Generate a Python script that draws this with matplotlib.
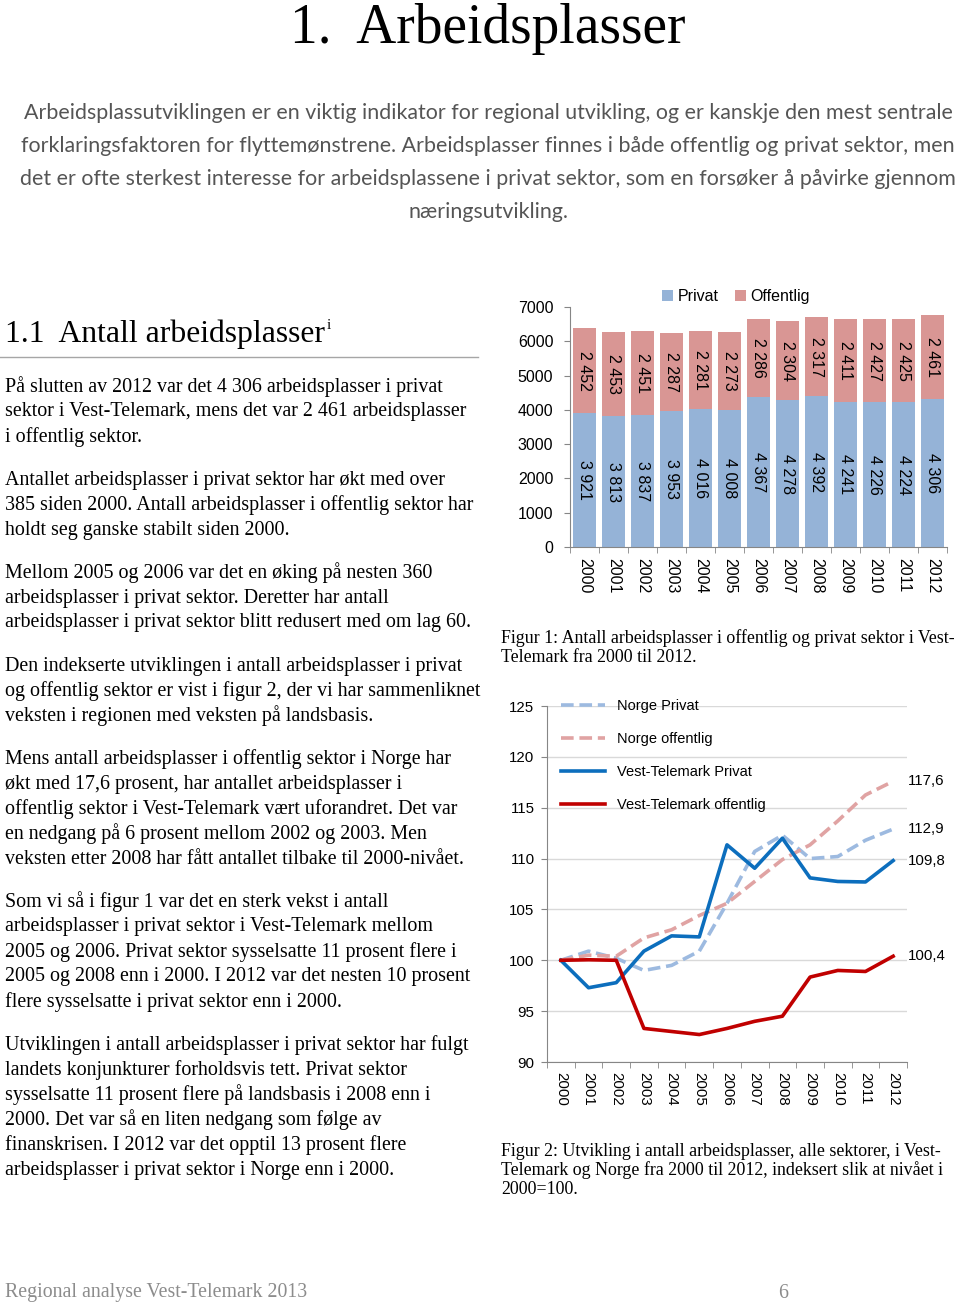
import numpy as np
import matplotlib
matplotlib.use("Agg")
import matplotlib.pyplot as plt
from matplotlib.ticker import FixedLocator

# Data
years = [str(y) for y in range(2000, 2013)]
privat = [3921, 3813, 3837, 3953, 4016, 4008, 4367, 4278, 4392, 4241, 4226, 4224, 4306]
offentlig = [2452, 2453, 2451, 2287, 2281, 2273, 2286, 2304, 2317, 2411, 2427, 2425, 2461]

norge_privat = [100, 100.9, 100.2, 99.0, 99.5, 100.9, 105.6, 110.7, 112.3, 110.0, 110.2, 111.8, 112.9]
norge_off = [100, 100.5, 100.4, 102.2, 103.0, 104.4, 105.6, 107.75, 109.9, 111.35, 113.7, 116.25, 117.6]
vt_privat = [100, 97.3, 97.8, 100.9, 102.4, 102.3, 111.35, 109.05, 112.0, 108.1, 107.75, 107.7, 109.8]
vt_off = [100, 100.05, 100.0, 93.3, 93.0, 92.7, 93.3, 94.0, 94.5, 98.35, 99.0, 98.9, 100.4]
end_labels = ["117,6", "112,9", "109,8", "100,4"]

title = "1.  Arbeidsplasser"
intro = [
    "Arbeidsplassutviklingen er en viktig indikator for regional utvikling, og er kanskje den mest sentrale",
    "forklaringsfaktoren for flyttemønstrene. Arbeidsplasser finnes i både offentlig og privat sektor, men",
    "det er ofte sterkest interesse for arbeidsplassene i privat sektor, som en forsøker å påvirke gjennom",
    "næringsutvikling.",
]
heading = "1.1  Antall arbeidsplasser"
paragraphs = [
    ["På slutten av 2012 var det 4 306 arbeidsplasser i privat",
     "sektor i Vest-Telemark, mens det var 2 461 arbeidsplasser",
     "i offentlig sektor."],
    ["Antallet arbeidsplasser i privat sektor har økt med over",
     "385 siden 2000. Antall arbeidsplasser i offentlig sektor har",
     "holdt seg ganske stabilt siden 2000."],
    ["Mellom 2005 og 2006 var det en øking på nesten 360",
     "arbeidsplasser i privat sektor. Deretter har antall",
     "arbeidsplasser i privat sektor blitt redusert med om lag 60."],
    ["Den indekserte utviklingen i antall arbeidsplasser i privat",
     "og offentlig sektor er vist i figur 2, der vi har sammenliknet",
     "veksten i regionen med veksten på landsbasis."],
    ["Mens antall arbeidsplasser i offentlig sektor i Norge har",
     "økt med 17,6 prosent, har antallet arbeidsplasser i",
     "offentlig sektor i Vest-Telemark vært uforandret. Det var",
     "en nedgang på 6 prosent mellom 2002 og 2003. Men",
     "veksten etter 2008 har fått antallet tilbake til 2000-nivået."],
    ["Som vi så i figur 1 var det en sterk vekst i antall",
     "arbeidsplasser i privat sektor i Vest-Telemark mellom",
     "2005 og 2006. Privat sektor sysselsatte 11 prosent flere i",
     "2005 og 2008 enn i 2000. I 2012 var det nesten 10 prosent",
     "flere sysselsatte i privat sektor enn i 2000."],
    ["Utviklingen i antall arbeidsplasser i privat sektor har fulgt",
     "landets konjunkturer forholdsvis tett. Privat sektor",
     "sysselsatte 11 prosent flere på landsbasis i 2008 enn i",
     "2000. Det var så en liten nedgang som følge av",
     "finanskrisen. I 2012 var det opptil 13 prosent flere",
     "arbeidsplasser i privat sektor i Norge enn i 2000."],
]
cap1 = ["Figur 1: Antall arbeidsplasser i offentlig og privat sektor i Vest-",
        "Telemark fra 2000 til 2012."]
cap2 = ["Figur 2: Utvikling i antall arbeidsplasser, alle sektorer, i Vest-",
        "Telemark og Norge fra 2000 til 2012, indeksert slik at nivået i",
        "2000=100."]
footer = "Regional analyse Vest-Telemark 2013"
page_no = "6"

W, H = 960, 1304
fig = plt.figure(figsize=(9.6, 13.04), dpi=100)
SERIF = ["Liberation Serif", "DejaVu Serif"]
SANS = ["Liberation Sans", "DejaVu Sans"]
renderer = fig.canvas.get_renderer()


def px(x, y):
    return x / W, 1 - y / H


def rect(l, t, r, b):
    return [l / W, 1 - b / H, (r - l) / W, (b - t) / H]


def fit_size(text, target_w, **kw):
    # font size that makes text about target_w pixels wide
    t = fig.text(0, 0, text, fontsize=10, **kw)
    w = t.get_window_extent(renderer).width
    t.remove()
    return 10 * target_w / w


# page text
fig.text(*px(488, 29), title, family=SERIF, fontsize=40, ha="center", va="center")
intro_kw = dict(family=["Lato", "DejaVu Sans"])
s_intro = min(fit_size(line, 936, **intro_kw) for line in intro[:3])
for i, line in enumerate(intro):
    fig.text(*px(488, 113 + 33 * i), line, fontsize=s_intro, color="#555555",
             ha="center", va="center", **intro_kw)

h = fig.text(*px(5, 334), heading, family=SERIF, fontsize=22.8, ha="left", va="center")
bb = h.get_window_extent(renderer)
fig.text(*px(bb.x1 + 2, 325), "i", family=SERIF, fontsize=11, ha="left", va="center")
fig.add_artist(plt.Line2D([0, 478 / W], [1 - 357 / H] * 2, color="#a6a6a6", lw=1))

s_body = fit_size(paragraphs[0][1], 460, family=SERIF)
y = 387
for para in paragraphs:
    for line in para:
        fig.text(*px(5, y), line, family=SERIF, fontsize=s_body, ha="left", va="center")
        y += 25
    y += 18

s_cap = fit_size(cap1[0], 454, family=SERIF)
for i, line in enumerate(cap1):
    fig.text(*px(501, 638 + 19 * i), line, family=SERIF, fontsize=s_cap, ha="left", va="center")
for i, line in enumerate(cap2):
    fig.text(*px(501, 1151 + 19 * i), line, family=SERIF, fontsize=s_cap, ha="left", va="center")

s_foot = fit_size(footer, 301, family=SERIF)
fig.text(*px(5, 1293), footer, family=SERIF, fontsize=s_foot, color="#8c8c8c", ha="left", va="center")
fig.text(*px(783, 1293), page_no, family=SERIF, fontsize=s_foot, color="#8c8c8c", ha="center", va="center")

# Figure 1: stacked bars
c_priv, c_off = "#95b3d7", "#d99694"
ax1 = fig.add_axes(rect(570, 307, 947, 547))
x = np.arange(len(years))
ax1.bar(x, privat, width=0.76, color=c_priv, label="Privat")
ax1.bar(x, offentlig, width=0.76, bottom=privat, color=c_off, label="Offentlig")
for xi, p, o in zip(x, privat, offentlig):
    ax1.text(xi, p / 2, f"{p:,}".replace(",", " "), rotation=270, ha="center", va="center",
             family=SANS, fontsize=11.5)
    ax1.text(xi, p + o / 2, f"{o:,}".replace(",", " "), rotation=270, ha="center", va="center",
             family=SANS, fontsize=11.5)
ax1.set_xlim(-0.5, 12.5)
ax1.set_ylim(0, 7000)
ax1.set_yticks(range(0, 7001, 1000))
ax1.set_xticks(x)
ax1.set_xticklabels(years, rotation=270, family=SANS, fontsize=11.5)
ax1.xaxis.set_minor_locator(FixedLocator(np.arange(-0.5, 13, 1)))
ax1.tick_params(axis="x", which="major", length=0, pad=8)
ax1.tick_params(axis="x", which="minor", length=4, color="#868686")
ax1.tick_params(axis="y", length=4, color="#868686", labelsize=11.5, pad=8)
for lab in ax1.get_yticklabels():
    lab.set_family(SANS)
for s in ["top", "right"]:
    ax1.spines[s].set_visible(False)
for s in ["left", "bottom"]:
    ax1.spines[s].set_color("#868686")
ax1.legend(loc="lower center", bbox_to_anchor=(0.44, 0.98), ncol=2, frameon=False,
           handlelength=0.7, handleheight=0.7, handletextpad=0.3, columnspacing=1.0,
           prop={"family": SANS, "size": 11.5}, borderpad=0)

# Figure 2: index lines
ax2 = fig.add_axes(rect(547, 706, 907, 1062))
ax2.plot(x, norge_privat, color="#9dbae0", lw=2.6, dashes=(3.5, 1.6), label="Norge Privat")
ax2.plot(x, norge_off, color="#e0a3a3", lw=2.6, dashes=(3.5, 1.6), label="Norge offentlig")
ax2.plot(x, vt_privat, color="#0c6ebd", lw=2.6, label="Vest-Telemark Privat")
ax2.plot(x, vt_off, color="#c00000", lw=2.6, label="Vest-Telemark offentlig")
for series, lab in zip([norge_off, norge_privat, vt_privat, vt_off], end_labels):
    ax2.annotate(lab, (x[-1], series[-1]), xytext=(15, 0), textcoords="offset pixels",
                 ha="left", va="center", family=SANS, fontsize=10.8, annotation_clip=False)
ax2.set_xlim(-0.5, 12.5)
ax2.set_ylim(90, 125)
ax2.set_yticks(range(90, 126, 5))
ax2.grid(axis="y", color="#d9d9d9", lw=1)
ax2.set_axisbelow(True)
ax2.set_xticks(x)
ax2.set_xticklabels(years, rotation=270, family=SANS, fontsize=10.8)
ax2.xaxis.set_minor_locator(FixedLocator(np.arange(-0.5, 13, 1)))
ax2.tick_params(axis="x", which="major", length=0, pad=7)
ax2.tick_params(axis="x", which="minor", length=4, color="#868686")
ax2.tick_params(axis="y", length=4, color="#868686", labelsize=10.8, pad=5)
for lab in ax2.get_yticklabels():
    lab.set_family(SANS)
for s in ["top", "right"]:
    ax2.spines[s].set_visible(False)
for s in ["left", "bottom"]:
    ax2.spines[s].set_color("#868686")
ax2.legend(loc="upper left", bbox_to_anchor=(0.02, 1.04), frameon=False, handlelength=3.0,
           handletextpad=0.8, labelspacing=1.3, prop={"family": SANS, "size": 10.5}, borderpad=0)

fig.savefig("out.png", dpi=100)
